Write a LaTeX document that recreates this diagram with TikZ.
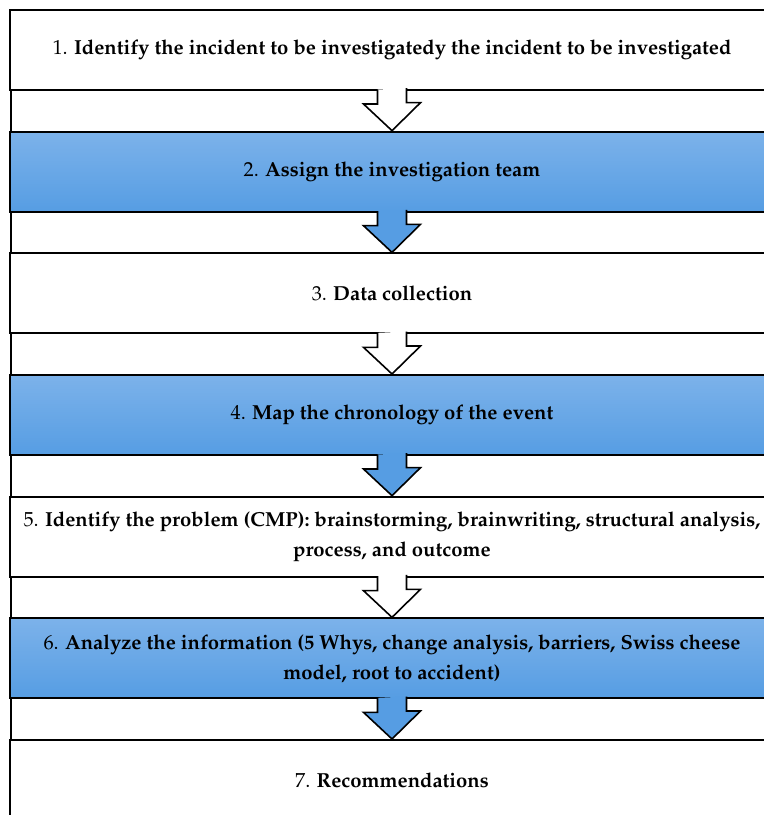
\documentclass[tikz,border=0pt]{standalone}
\usepackage[T1]{fontenc}
\usepackage{mathpazo}
\usetikzlibrary{positioning,calc}

\definecolor{stepTop}{RGB}{124,178,234}
\definecolor{stepBottom}{RGB}{86,157,227}

% block arrow from the bottom of one box to the top of the next
\newcommand{\stepArrow}[3]{%
  \draw[arrowLine, fill=#3] ($(#1.south)+(-14.5,-1.5)$) -- ++(0,14.5) -- ++(-14,0)
    -- (#2.north) -- ++(28.5,-28) -- ++(-14,0) -- ++(0,-14.5);}

\begin{document}
\begin{tikzpicture}[x=0.75pt, y=-0.75pt, node distance=91.25pt, on grid, font=\fontsize{15.2}{22.5}\selectfont]

		\useasboundingbox (0,0) rectangle (764,815);

		\tikzstyle{plainStep} = [draw, line width=1.5pt, minimum width=573pt, minimum height=60pt, align=center, inner sep=0pt, fill=white]
		\tikzstyle{blueStep} = [plainStep, top color=stepTop, bottom color=stepBottom]
		\tikzstyle{arrowLine} = [black, line width=1.2pt, line join=miter]

		% Left rail
		\coordinate (railTop) at (10.5,10);
		\coordinate (railEnd) at (10.5,815);
		\draw[line width=1.5pt] (railTop) -- (railEnd);

		% Nodes
		\node[plainStep] (identify) at (392,50) {1. \textbf{Identify the incident to be investigatedy the incident to be investigated}};
		\node[blueStep, below=of identify] (team) {2. \textbf{Assign the investigation team}};
		\node[plainStep, below=of team] (data) {3. \textbf{Data collection}};
		\node[blueStep, below=of data] (chrono) {4. \textbf{Map the chronology of the event}};
		\node[plainStep, below=of chrono] (problem) {5. \textbf{Identify the problem (CMP): brainstorming, brainwriting, structural analysis,}\\ \textbf{process, and outcome}};
		\node[blueStep, below=of problem] (analyze) {6. \textbf{Analyze the information (5 Whys, change analysis, barriers, Swiss cheese}\\ \textbf{model, root to accident)}};
		\node[plainStep, below=of analyze] (recommend) {7. \textbf{Recommendations}};

		% Arrows
		\stepArrow{identify}{team}{white}
		\stepArrow{team}{data}{stepBottom}
		\stepArrow{data}{chrono}{white}
		\stepArrow{chrono}{problem}{stepBottom}
		\stepArrow{problem}{analyze}{white}
		\stepArrow{analyze}{recommend}{stepBottom}

	\end{tikzpicture}
\end{document}
